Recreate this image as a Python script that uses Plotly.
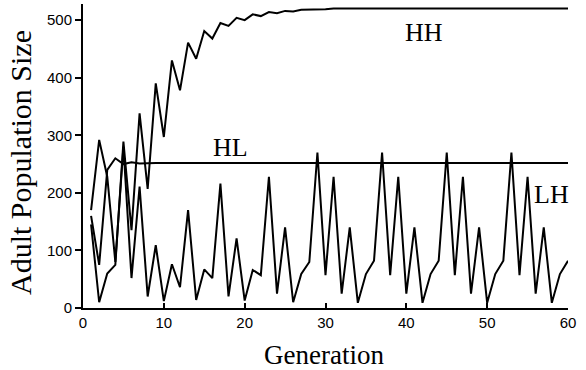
import plotly.graph_objects as go

generations = list(range(1, 61))

hh = [145, 10, 60, 75, 289, 135, 338, 207, 390, 297,
      430, 378, 461, 433, 481, 468, 495, 490, 504, 500,
      510, 507, 514, 512, 516, 515, 518, 518, 519, 519,
      520, 520, 520, 520, 520, 520, 520, 520, 520, 520,
      520, 520, 520, 520, 520, 520, 520, 520, 520, 520,
      520, 520, 520, 520, 520, 520, 520, 520, 520, 520]

hl = [160, 75, 240, 260, 250, 253, 251, 252, 252, 252,
      252, 252, 252, 252, 252, 252, 252, 252, 252, 252,
      252, 252, 252, 252, 252, 252, 252, 252, 252, 252,
      252, 252, 252, 252, 252, 252, 252, 252, 252, 252,
      252, 252, 252, 252, 252, 252, 252, 252, 252, 252,
      252, 252, 252, 252, 252, 252, 252, 252, 252, 252]

lh = [170, 292, 228, 80, 280, 52, 211, 20, 109, 12,
      76, 36, 170, 14, 67, 52, 216, 20, 121, 13,
      66, 57, 228, 25, 140, 10, 59, 80, 270, 57,
      228, 25, 140, 9, 59, 82, 270, 57, 228, 25,
      140, 9, 59, 82, 270, 57, 228, 25, 140, 9,
      59, 82, 270, 57, 228, 25, 140, 9, 59, 82]

x_ticks = [0, 10, 20, 30, 40, 50, 60]
y_ticks = [0, 100, 200, 300, 400, 500]

labels = [("HH", 42.2, 479), ("HL", 18.2, 278), ("LH", 57.9, 198)]

fig = go.Figure()
for name, vals in [("HH", hh), ("HL", hl), ("LH", lh)]:
    fig.add_trace(go.Scatter(x=generations, y=vals, mode="lines", name=name,
                             line=dict(color="black", width=2)))

serif = "Liberation Serif, Times New Roman, serif"
sans = "Liberation Sans, Arial, sans-serif"

for txt, lx, ly in labels:
    fig.add_annotation(x=lx, y=ly, text=txt, showarrow=False,
                       font=dict(family=serif, size=26, color="black"))

fig.add_annotation(xref="paper", yref="paper", x=-0.13, y=0.48,
                   xanchor="center", yanchor="middle",
                   text="Adult Population Size", textangle=-90, showarrow=False,
                   font=dict(family=serif, size=30, color="black"))
fig.add_annotation(xref="paper", yref="paper", x=0.497, y=-0.155,
                   xanchor="center", yanchor="middle",
                   text="Generation", showarrow=False,
                   font=dict(family=serif, size=27, color="black"))

fig.update_layout(
    width=586, height=370,
    margin=dict(l=83, r=18, t=4, b=62),
    paper_bgcolor="white", plot_bgcolor="white",
    showlegend=False,
)
fig.update_xaxes(range=[0, 60], tickvals=x_ticks, showgrid=False, zeroline=False,
                 showline=True, linecolor="black", linewidth=2,
                 ticks="inside", ticklen=5, tickwidth=1.5, tickcolor="black",
                 tickfont=dict(family=sans, size=15, color="black"))
fig.update_yaxes(range=[0, 528], tickvals=y_ticks, showgrid=False, zeroline=False,
                 showline=True, linecolor="black", linewidth=2,
                 ticks="outside", ticklen=6, tickwidth=1.5, tickcolor="black",
                 tickfont=dict(family=sans, size=15, color="black"))

fig.write_html("out.html")
